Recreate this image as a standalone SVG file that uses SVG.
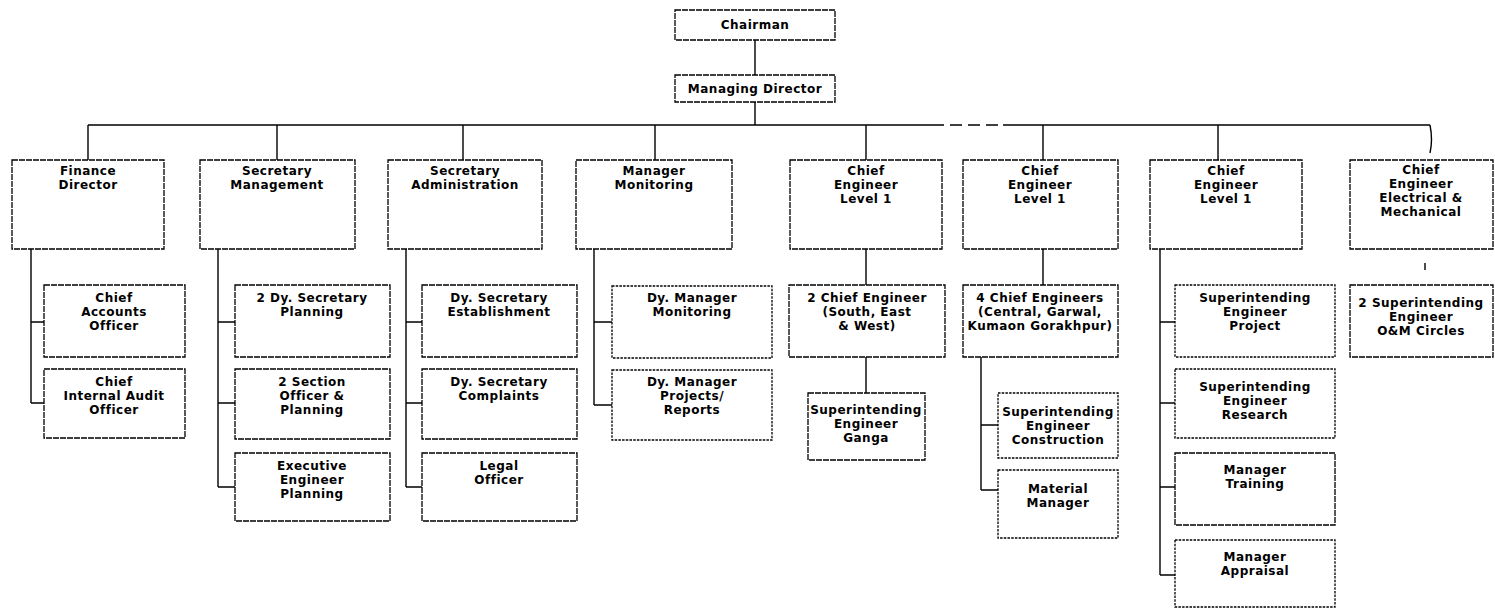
<svg xmlns="http://www.w3.org/2000/svg" width="1495" height="613" viewBox="0 0 1495 613">
<style>
.box{fill:#fff;stroke:#000;stroke-width:1.3;stroke-dasharray:6 1}
.dot{fill:#fff;stroke:#000;stroke-width:1.3;stroke-dasharray:2.5 1.2}
.t{font-family:"DejaVu Sans","Liberation Sans",sans-serif;font-size:12px;fill:#000;text-anchor:middle;font-weight:bold;letter-spacing:0.5px}
.c{fill:none;stroke:#000;stroke-width:1.4}
.cd{fill:none;stroke:#000;stroke-width:1.4;stroke-dasharray:12 6}
</style>
<rect width="1495" height="613" fill="#fff"/>
<g id="connectors">
<path class="c" d="M755 40V75M755 102V125M88 125H932M1003 125H1430M88 125V160M277 125V160M463 125V160M655 125V160M866 125V160M1043 125V160M1218 125V160M1430 125Q1433 140 1430 153"/>
<path class="cd" d="M932 125H1003"/>
<path class="c" d="M31 249V403M31 322H44M31 403H44"/>
<path class="c" d="M218 249V487M218 322H235M218 403H235M218 487H235"/>
<path class="c" d="M406 249V487M406 322H422M406 403H422M406 487H422"/>
<path class="c" d="M594 249V405M594 322H612M594 405H612"/>
<path class="c" d="M866 249V285M866 357V393"/>
<path class="c" d="M1043 249V285M981 357V490M981 425H998M981 490H998"/>
<path class="c" d="M1160 249V575M1160 322H1175M1160 403H1175M1160 487H1175M1160 575H1175"/>
<path class="c" d="M1425 263V270"/>
</g>
<g id="chairman"><rect class="box" x="675" y="10" width="160" height="30"/><text class="t" x="755" y="29">Chairman</text></g>
<g id="md"><rect class="box" x="675" y="75" width="160" height="27"/><text class="t" x="755" y="93">Managing Director</text></g>

<g id="finance"><rect class="box" x="12" y="160" width="152" height="89"/><text class="t" x="88" y="175">Finance</text><text class="t" x="88" y="189">Director</text></g>
<g id="secmgmt"><rect class="box" x="200" y="160" width="155" height="89"/><text class="t" x="277" y="175">Secretary</text><text class="t" x="277" y="189">Management</text></g>
<g id="secadmin"><rect class="box" x="388" y="160" width="154" height="89"/><text class="t" x="465" y="175">Secretary</text><text class="t" x="465" y="189">Administration</text></g>
<g id="mgrmon"><rect class="box" x="576" y="160" width="156" height="89"/><text class="t" x="654" y="175">Manager</text><text class="t" x="654" y="189">Monitoring</text></g>
<g id="ce1"><rect class="box" x="790" y="160" width="152" height="89"/><text class="t" x="866" y="175">Chief</text><text class="t" x="866" y="189">Engineer</text><text class="t" x="866" y="203">Level 1</text></g>
<g id="ce2"><rect class="box" x="963" y="160" width="155" height="89"/><text class="t" x="1040" y="175">Chief</text><text class="t" x="1040" y="189">Engineer</text><text class="t" x="1040" y="203">Level 1</text></g>
<g id="ce3"><rect class="box" x="1150" y="160" width="152" height="89"/><text class="t" x="1226" y="175">Chief</text><text class="t" x="1226" y="189">Engineer</text><text class="t" x="1226" y="203">Level 1</text></g>
<g id="ceem"><rect class="box" x="1350" y="160" width="143" height="89"/><text class="t" x="1421" y="174">Chief</text><text class="t" x="1421" y="188">Engineer</text><text class="t" x="1421" y="202">Electrical &amp;</text><text class="t" x="1421" y="216">Mechanical</text></g>

<g id="cao"><rect class="box" x="44" y="285" width="141" height="72"/><text class="t" x="114" y="302">Chief</text><text class="t" x="114" y="316">Accounts</text><text class="t" x="114" y="330">Officer</text></g>
<g id="ciao"><rect class="box" x="44" y="369" width="141" height="69"/><text class="t" x="114" y="386">Chief</text><text class="t" x="114" y="400">Internal Audit</text><text class="t" x="114" y="414">Officer</text></g>

<g id="dysecplan"><rect class="box" x="235" y="285" width="155" height="72"/><text class="t" x="312" y="302">2 Dy. Secretary</text><text class="t" x="312" y="316">Planning</text></g>
<g id="secoff"><rect class="box" x="235" y="369" width="155" height="70"/><text class="t" x="312" y="386">2 Section</text><text class="t" x="312" y="400">Officer &amp;</text><text class="t" x="312" y="414">Planning</text></g>
<g id="eeplan"><rect class="box" x="235" y="453" width="155" height="68"/><text class="t" x="312" y="470">Executive</text><text class="t" x="312" y="484">Engineer</text><text class="t" x="312" y="498">Planning</text></g>

<g id="dysecest"><rect class="box" x="422" y="285" width="155" height="72"/><text class="t" x="499" y="302">Dy. Secretary</text><text class="t" x="499" y="316">Establishment</text></g>
<g id="dyseccomp"><rect class="box" x="422" y="369" width="155" height="70"/><text class="t" x="499" y="386">Dy. Secretary</text><text class="t" x="499" y="400">Complaints</text></g>
<g id="legal"><rect class="box" x="422" y="453" width="155" height="68"/><text class="t" x="499" y="470">Legal</text><text class="t" x="499" y="484">Officer</text></g>

<g id="dymgrmon"><rect class="dot" x="612" y="286" width="160" height="72"/><text class="t" x="692" y="302">Dy. Manager</text><text class="t" x="692" y="316">Monitoring</text></g>
<g id="dymgrproj"><rect class="dot" x="612" y="370" width="160" height="70"/><text class="t" x="692" y="386">Dy. Manager</text><text class="t" x="692" y="400">Projects/</text><text class="t" x="692" y="414">Reports</text></g>

<g id="ce2sew"><rect class="box" x="789" y="285" width="156" height="72"/><text class="t" x="867" y="302">2 Chief Engineer</text><text class="t" x="867" y="316">(South, East</text><text class="t" x="867" y="330">&amp; West)</text></g>
<g id="seganga"><rect class="box" x="808" y="393" width="117" height="67"/><text class="t" x="866" y="414">Superintending</text><text class="t" x="866" y="428">Engineer</text><text class="t" x="866" y="442">Ganga</text></g>

<g id="ce4"><rect class="box" x="963" y="285" width="155" height="72"/><text class="t" x="1040" y="302">4 Chief Engineers</text><text class="t" x="1040" y="316">(Central, Garwal,</text><text class="t" x="1040" y="330">Kumaon Gorakhpur)</text></g>
<g id="secons"><rect class="dot" x="998" y="393" width="120" height="65"/><text class="t" x="1058" y="416">Superintending</text><text class="t" x="1058" y="430">Engineer</text><text class="t" x="1058" y="444">Construction</text></g>
<g id="matmgr"><rect class="dot" x="998" y="470" width="120" height="68"/><text class="t" x="1058" y="493">Material</text><text class="t" x="1058" y="507">Manager</text></g>

<g id="seproj"><rect class="dot" x="1175" y="285" width="160" height="72"/><text class="t" x="1255" y="302">Superintending</text><text class="t" x="1255" y="316">Engineer</text><text class="t" x="1255" y="330">Project</text></g>
<g id="seres"><rect class="dot" x="1175" y="369" width="160" height="69"/><text class="t" x="1255" y="391">Superintending</text><text class="t" x="1255" y="405">Engineer</text><text class="t" x="1255" y="419">Research</text></g>
<g id="mgrtrain"><rect class="box" x="1175" y="453" width="160" height="72"/><text class="t" x="1255" y="474">Manager</text><text class="t" x="1255" y="488">Training</text></g>
<g id="mgrappr"><rect class="dot" x="1175" y="540" width="160" height="67"/><text class="t" x="1255" y="561">Manager</text><text class="t" x="1255" y="575">Appraisal</text></g>

<g id="seom"><rect class="box" x="1350" y="285" width="143" height="72"/><text class="t" x="1421" y="307">2 Superintending</text><text class="t" x="1421" y="321">Engineer</text><text class="t" x="1421" y="335">O&amp;M Circles</text></g>
</svg>
